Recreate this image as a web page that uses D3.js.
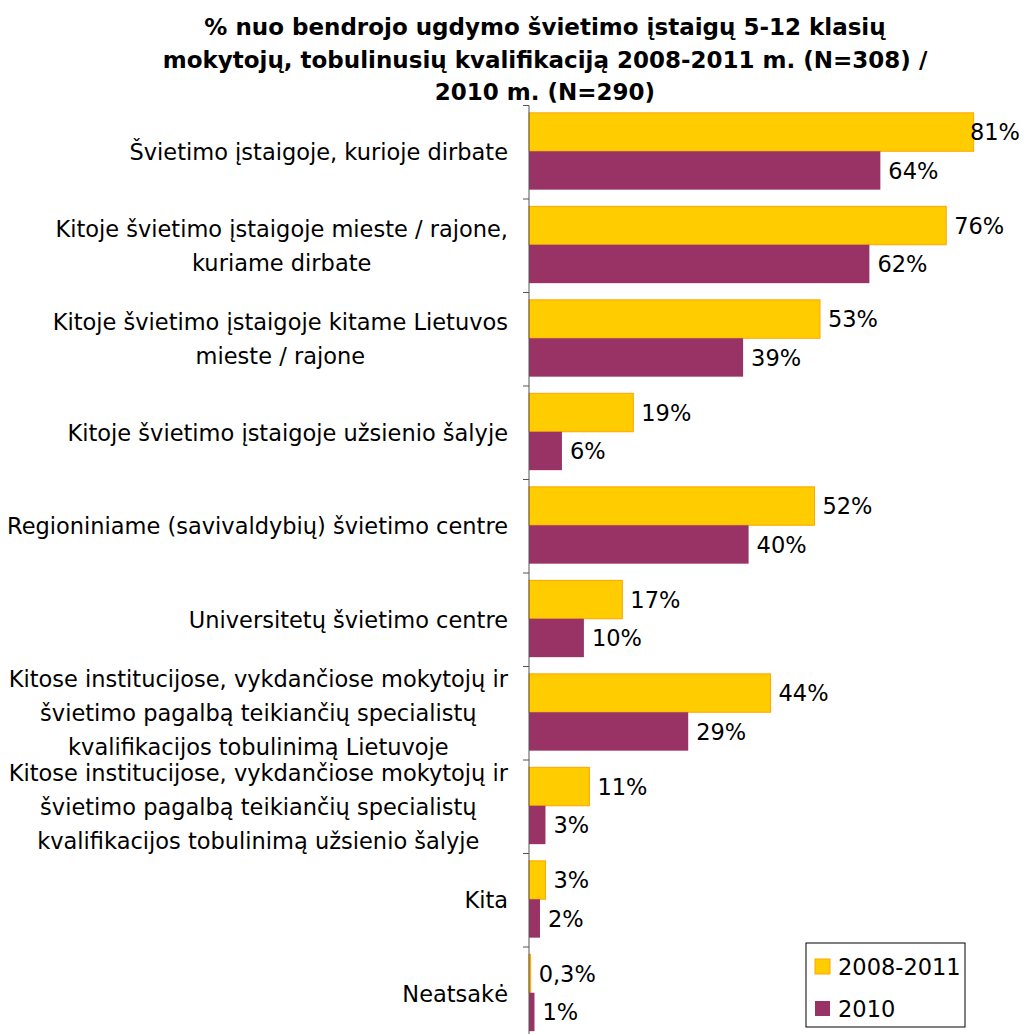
<!DOCTYPE html>
<html>
<head>
<meta charset="utf-8">
<script src="https://cdn.jsdelivr.net/npm/d3@7"></script>
<style>
  html, body { margin: 0; padding: 0; background: #fff; }
  svg { display: block; }
  text { font-family: "DejaVu Sans", Verdana, sans-serif; fill: #000; }
</style>
</head>
<body>
<script>
// ---- data ----
const titleLines = [
  "% nuo bendrojo ugdymo švietimo įstaigų 5-12 klasių",
  "mokytojų, tobulinusių kvalifikaciją 2008-2011 m. (N=308) /",
  "2010 m. (N=290)"
];
const categories = [
  "Švietimo įstaigoje, kurioje dirbate",
  "Kitoje švietimo įstaigoje mieste / rajone,\nkuriame dirbate",
  "Kitoje švietimo įstaigoje kitame Lietuvos\nmieste / rajone",
  "Kitoje švietimo įstaigoje užsienio šalyje",
  "Regioniniame (savivaldybių) švietimo centre",
  "Universitetų švietimo centre",
  "Kitose institucijose, vykdančiose mokytojų ir\nšvietimo pagalbą teikiančių specialistų\nkvalifikacijos tobulinimą Lietuvoje",
  "Kitose institucijose, vykdančiose mokytojų ir\nšvietimo pagalbą teikiančių specialistų\nkvalifikacijos tobulinimą užsienio šalyje",
  "Kita",
  "Neatsakė"
];
const seriesNames = ["2008-2011", "2010"];
const values2008 = [81, 76, 53, 19, 52, 17, 44, 11, 3, 0.3];
const values2010 = [64, 62, 39, 6, 40, 10, 29, 3, 2, 1];
const seriesColors = ["#FFCC00", "#993366"];
const seriesStrokes = ["#FFA500", "#993366"];

// ---- layout ----
const W = 1025, H = 1034;
const axisX = 529;
const fontSize = 22.5;
const titleSize = 23;

const svg = d3.select("body").append("svg").attr("width", W).attr("height", H);

// title
svg.append("g").selectAll("text").data(titleLines).join("text")
  .attr("x", 545)
  .attr("y", (d, i) => 35 + i * 32.5)
  .attr("text-anchor", "middle")
  .style("font-weight", "bold")
  .style("font-size", titleSize + "px")
  .text(d => d);

const y = d3.scaleBand().domain(d3.range(categories.length)).range([105.5, 1040.5]);
const yInner = d3.scaleBand().domain([0, 1]).range([-1, y.bandwidth() - 1]).paddingOuter(0.217);
const x = d3.scaleLinear().domain([0, 100]).range([axisX, axisX + 549]);

const data = categories.map((c, i) => ({ cat: c, i, vals: [values2008[i], values2010[i]] }));

// bars
const groups = svg.append("g").selectAll("g").data(data).join("g")
  .attr("transform", d => `translate(0,${y(d.i)})`);

groups.selectAll("rect").data(d => d.vals.map((v, s) => ({ v, s }))).join("rect")
  .attr("x", x(0))
  .attr("y", d => yInner(d.s))
  .attr("width", d => x(d.v) - x(0))
  .attr("height", yInner.bandwidth())
  .attr("fill", d => seriesColors[d.s])
  .attr("stroke", d => d.s === 0 ? seriesStrokes[0] : "none")
  .attr("stroke-width", 1);

// value labels
const fmt = v => (v < 1 ? String(v).replace(".", ",") : String(v)) + "%";
groups.selectAll("text.val").data(d => d.vals.map((v, s) => ({ v, s }))).join("text")
  .attr("class", "val")
  .attr("y", d => yInner(d.s) + yInner.bandwidth() / 2)
  .attr("dy", "0.36em")
  .style("font-size", fontSize + "px")
  .text(d => fmt(d.v))
  .each(function (d) {
    const w = this.getComputedTextLength();
    let px = x(d.v) + 8;
    if (px + w > W - 5) px = W - 5 - w;
    d3.select(this).attr("x", px);
  });

// axis
const axis = d3.axisLeft(y).tickSize(0).tickFormat("");
const axisG = svg.append("g").attr("transform", `translate(${axisX},0)`).call(axis);
axisG.select(".domain").attr("stroke", "#555").attr("d", `M0,105.5V${H + 10}`);
axisG.append("g").selectAll("line").data(d3.range(categories.length + 1)).join("line")
  .attr("x1", -6).attr("x2", 0)
  .attr("y1", i => 105.5 + i * y.step()).attr("y2", i => 105.5 + i * y.step())
  .attr("stroke", "#555");

// category labels (multi-line, lines centered, block right-aligned)
const lineH = 34;
const catG = svg.append("g").selectAll("g").data(data).join("g");
catG.each(function (d) {
  const g = d3.select(this);
  const lines = d.cat.split("\n");
  const cy = y(d.i) + y.bandwidth() / 2;
  const t = g.selectAll("text").data(lines).join("text")
    .style("font-size", fontSize + "px")
    .attr("text-anchor", "middle")
    .attr("y", (l, k) => cy + (k - (lines.length - 1) / 2) * lineH)
    .attr("dy", "0.36em")
    .text(l => l);
  let maxW = 0;
  t.each(function () { maxW = Math.max(maxW, this.getComputedTextLength()); });
  t.attr("x", 508 - maxW / 2);
});

// legend
const lg = svg.append("g");
lg.append("rect").attr("x", 806).attr("y", 943).attr("width", 159).attr("height", 84)
  .attr("fill", "#fff").attr("stroke", "#000").attr("stroke-width", 1);
const li = lg.selectAll("g").data(seriesNames).join("g")
  .attr("transform", (d, i) => `translate(815,${959 + i * 42})`);
li.append("rect").attr("width", 15).attr("height", 15)
  .attr("fill", (d, i) => seriesColors[i])
  .attr("stroke", (d, i) => i === 0 ? seriesStrokes[0] : "none");
li.append("text").attr("x", 23).attr("y", 7.5).attr("dy", "0.36em")
  .style("font-size", fontSize + "px").text(d => d);
</script>
</body>
</html>
